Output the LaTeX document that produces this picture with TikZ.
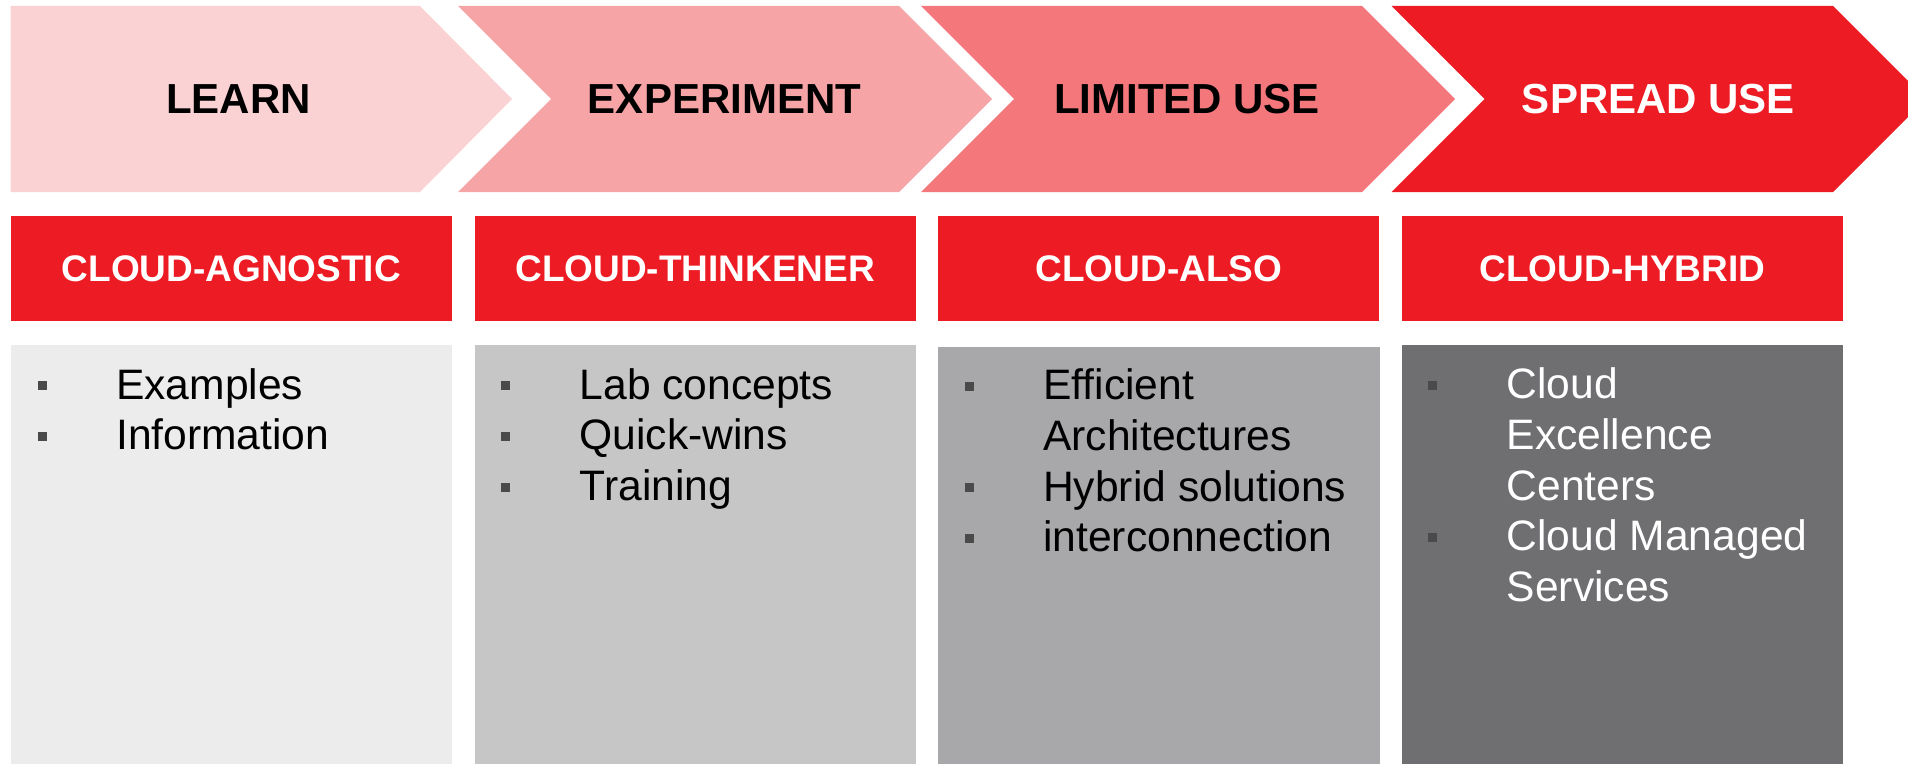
\documentclass[tikz,border=0pt]{standalone}
\usepackage{fontspec}
\setmainfont{Liberation Sans}
\definecolor{learnpink}{HTML}{FAD2D3}
\definecolor{experimentpink}{HTML}{F7A4A7}
\definecolor{limitedpink}{HTML}{F3777B}
\definecolor{cloudred}{HTML}{ED1C24}
\definecolor{grayone}{HTML}{ECECEC}
\definecolor{graytwo}{HTML}{C6C6C6}
\definecolor{graythree}{HTML}{A8A8AA}
\definecolor{grayfour}{HTML}{6F6E70}
\definecolor{bulletgray}{HTML}{4A4A4A}
\begin{document}
\begin{tikzpicture}[x=1bp, y=-1bp,
  stagelabel/.style={inner sep=0pt, font=\fontsize{42bp}{50bp}\selectfont\bfseries},
  kindbox/.style={fill=cloudred, text=white, inner sep=0pt,
    minimum width=441.3bp, minimum height=105bp,
    font=\fontsize{37bp}{44bp}\selectfont\bfseries},
  itemtext/.style={anchor=base west, inner sep=0pt, font=\fontsize{42.6bp}{51bp}\selectfont}]
  \useasboundingbox (0,0) rectangle (1908,764);
  \clip (0,0) rectangle (1908,764);
  %stage arrows
  \fill[learnpink] (10.7,6) -- (420,6) -- (512,99) -- (420,192) -- (10.7,192) -- cycle;
  \fill[experimentpink] (458,6) -- (899,6) -- (992,99) -- (899,192) -- (458,192)
        -- (551,99) -- cycle;
  \fill[limitedpink] (921,6) -- (1362,6) -- (1455,99) -- (1362,192) -- (921,192)
        -- (1014,99) -- cycle;
  \fill[cloudred] (1391.5,6) -- (1833,6) -- (1926,99) -- (1833,192) -- (1391.5,192)
        -- (1484.5,99) -- cycle;
  \node[stagelabel] (learn) at (238.5,99.5) {LEARN};
  \node[stagelabel] (experiment) at (724.5,99.5) {EXPERIMENT};
  \node[stagelabel] (limited) at (1187,99.5) {LIMITED USE};
  \node[stagelabel, text=white] (spread) at (1658.5,99.5) {SPREAD USE};
  %cloud kinds
  \node[kindbox] (agnostic) at (231.35,268.5) {CLOUD-AGNOSTIC};
  \node[kindbox] (thinkener) at (695.2,268.5) {CLOUD-THINKENER};
  \node[kindbox] (also) at (1158.8,268.5) {CLOUD-ALSO};
  \node[kindbox] (hybrid) at (1622.4,268.5) {CLOUD-HYBRID};
  %content columns
  \fill[grayone] (11,345) rectangle (452,764);
  \fill[graytwo] (474.5,345) rectangle (916,764);
  \fill[graythree] (938,347) rectangle (1380,764);
  \fill[grayfour] (1401.7,345) rectangle (1843,764);
  %bullet lists
  \foreach \b/\t [count=\i from 0] in {1/Examples, 1/Information}{
    \node[itemtext] (agn-\i) at (116,399+50.8*\i) {\t};
    \ifnum\b=1 \fill[bulletgray] (37.5,390+50.8*\i) rectangle ++(9,-9); \fi
  }
  \foreach \b/\t [count=\i from 0] in {1/Lab concepts, 1/Quick-wins, 1/Training}{
    \node[itemtext] (thk-\i) at (579.5,399+50.8*\i) {\t};
    \ifnum\b=1 \fill[bulletgray] (501,390+50.8*\i) rectangle ++(9,-9); \fi
  }
  \foreach \b/\t [count=\i from 0] in {1/Efficient, 0/Architectures,
      1/Hybrid solutions, 1/interconnection}{
    \node[itemtext] (als-\i) at (1043,399.5+50.8*\i) {\t};
    \ifnum\b=1 \fill[bulletgray] (964.5,390.5+50.8*\i) rectangle ++(9,-9); \fi
  }
  \foreach \b/\t [count=\i from 0] in {1/Cloud, 0/Excellence, 0/Centers,
      1/Cloud Managed, 0/Services}{
    \node[itemtext, text=white] (hyb-\i) at (1506.5,398.5+50.8*\i) {\t};
    \ifnum\b=1 \fill[bulletgray] (1428,389.5+50.8*\i) rectangle ++(9,-9); \fi
  }
\end{tikzpicture}
\end{document}
